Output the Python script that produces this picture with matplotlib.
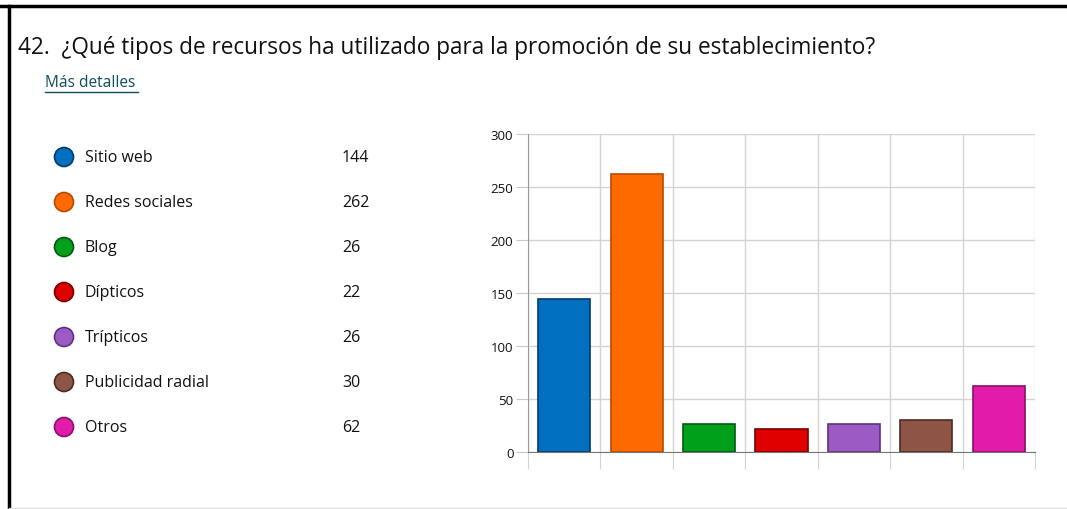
import numpy as np
import matplotlib.pyplot as plt
from matplotlib.patches import Circle

plt.rcParams['font.family'] = ['Open Sans', 'DejaVu Sans']

categorias = ["Sitio web", "Redes sociales", "Blog", "Dípticos", "Trípticos",
              "Publicidad radial", "Otros"]
valores = [144, 262, 26, 22, 26, 30, 62]
colores = ["#0070BF", "#FF6A00", "#00A01A", "#E00000", "#9B5AC4", "#8E5446", "#E21BAA"]
bordes = ["#003A70", "#B84A00", "#005A10", "#7A0000", "#5E3280", "#4E2A22", "#8A0F68"]
yticks = [0, 50, 100, 150, 200, 250, 300]

titulo = "42.  ¿Qué tipos de recursos ha utilizado para la promoción de su establecimiento?"

W, H = 1067, 510
fig = plt.figure(figsize=(W / 100, H / 100), dpi=100)

# marco de la imagen
fig.add_artist(plt.Line2D([0, 1], [1 - 7 / H, 1 - 7 / H], color="black", lw=2.5))
fig.add_artist(plt.Line2D([9 / W, 9 / W], [0, 1 - 7 / H], color="black", lw=2.5))
fig.add_artist(plt.Line2D([9 / W, 1], [1 / H, 1 / H], color="#DDDDDD", lw=1))

fig.text(18 / W, 1 - 48 / H, titulo, fontsize=16.3, va="center", ha="left", color="#111111")
fig.text(45 / W, 1 - 83 / H, "Más detalles", fontsize=11.2, va="center", ha="left",
         color="#0E4F5C")
fig.add_artist(plt.Line2D([45 / W, 138 / W], [1 - 93 / H, 1 - 93 / H], color="#0E4F5C", lw=1))

# leyenda a la izquierda
for i, (cat, val) in enumerate(zip(categorias, valores)):
    yy = 158 + 45 * i
    circ = Circle(((64) / 100, (H - yy) / 100), 9.5 / 100, transform=fig.dpi_scale_trans,
                  facecolor=colores[i], edgecolor=bordes[i], lw=1.2)
    fig.add_artist(circ)
    fig.text(85 / W, 1 - yy / H, cat, fontsize=11.5, va="center", ha="left", color="#111111")
    fig.text(342 / W, 1 - yy / H, str(val), fontsize=11.5, va="center", ha="left",
             color="#111111")

# barras
ax = fig.add_axes([528 / W, 1 - 453 / H, (1035 - 528) / W, (453 - 135) / H])
x = np.arange(len(categorias))
ax.bar(x, valores, width=0.72, color=colores, edgecolor=bordes, linewidth=1.2, zorder=3)
ax.set_xlim(-0.5, len(categorias) - 0.5)
ax.set_ylim(0, 300)
ax.set_yticks(yticks)
ax.set_yticklabels([str(t) for t in yticks], fontsize=9.5, color="#111111")
ax.set_xticks(np.arange(len(categorias) + 1) - 0.5)
ax.set_xticklabels([])
ax.grid(True, color="#D4D4D4", lw=1, zorder=0)
ax.tick_params(axis="y", length=9, color="#C8C8C8", pad=1.5)
ax.tick_params(axis="x", length=12, color="#D4D4D4")
for s in ["top", "right"]:
    ax.spines[s].set_visible(False)
ax.spines["left"].set_color("#999999")
ax.spines["bottom"].set_color("#777777")
ax.spines["bottom"].set_zorder(4)

fig.savefig("out.png", dpi=100)
